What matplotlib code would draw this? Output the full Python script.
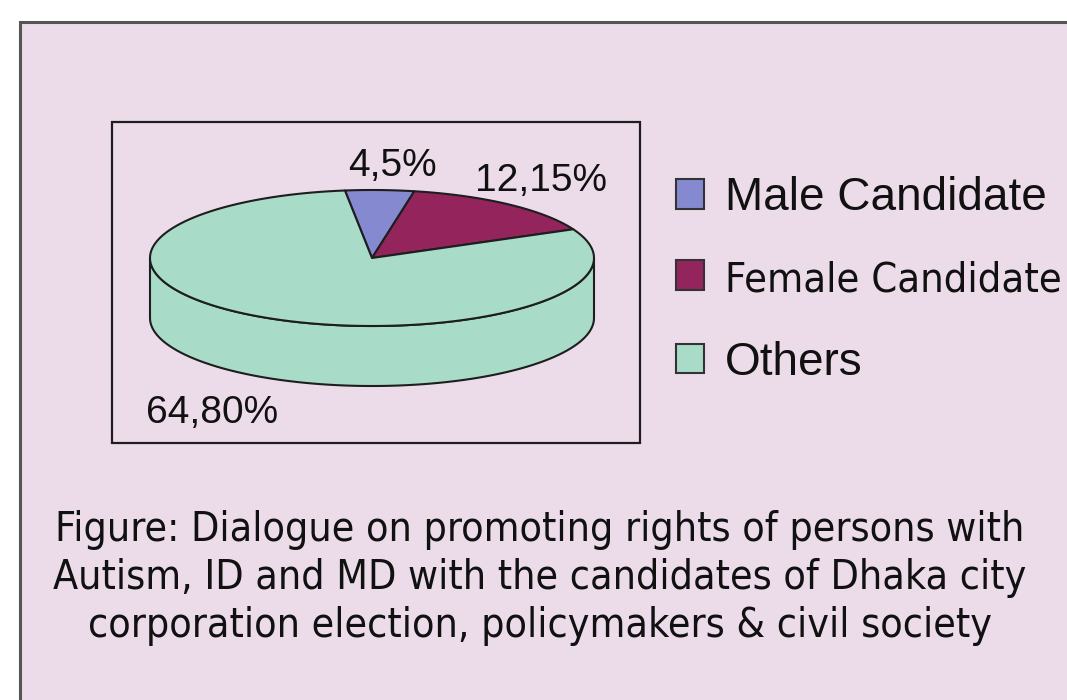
import numpy as np
import matplotlib
matplotlib.use("Agg")
import matplotlib.pyplot as plt
from matplotlib.patches import Polygon, Rectangle, Patch
from matplotlib import font_manager
from matplotlib.font_manager import FontProperties

# data
categories = ["Male Candidate", "Female Candidate", "Others"]
counts = [4, 12, 64]
percents = [5, 15, 80]
colors = ["#8589d0", "#94245c", "#a8dcc8"]
caption_lines = [
    "Figure: Dialogue on promoting rights of persons with",
    "Autism, ID and MD with the candidates of Dhaka city",
    "corporation election, policymakers & civil society",
]

installed = {f.name for f in font_manager.fontManager.ttflist}
regular = "Liberation Sans" if "Liberation Sans" in installed else "DejaVu Sans"

# look for a narrow / condensed face (the original uses a condensed font)
narrow_path = None
for pref in ("Liberation Sans Narrow", "DejaVu Sans Condensed", "Noto Sans Condensed",
             "Roboto Condensed", "Open Sans Condensed"):
    for f in font_manager.fontManager.ttflist:
        base = f.fname.replace(" ", "").lower()
        if (f.name == pref or pref.replace(" ", "").lower() in base) and f.weight in (400, "normal") \
                and f.style == "normal":
            narrow_path = f.fname
            break
    if narrow_path:
        break
if narrow_path is None:
    for f in font_manager.fontManager.ttflist:
        if f.stretch in ("condensed", "semi-condensed") and f.style == "normal" and f.weight in (400, "normal"):
            narrow_path = f.fname
            break


def narrow_prop(size):
    if narrow_path:
        return FontProperties(fname=narrow_path, size=size)
    return FontProperties(family=regular, size=size)


W, H = 1067, 700
fig = plt.figure(figsize=(W / 100, H / 100), dpi=100)
fig.patch.set_facecolor("white")
ax = fig.add_axes([0, 0, 1, 1])
ax.set_xlim(0, W)
ax.set_ylim(H, 0)
ax.axis("off")
renderer = fig.canvas.get_renderer()

bg = "#ecdcea"
edge = "#1e1e1e"

# outer panel and chart box
ax.add_patch(Rectangle((20, 22), 1100, 720, facecolor=bg, edgecolor="#555555", lw=2.2))
ax.add_patch(Rectangle((112, 122), 528, 321, facecolor="none", edgecolor=edge, lw=1.6))

# 3d pie geometry
cx, cy, rx, ry, depth = 372, 258, 222, 68, 60
start = 97.0
fracs = np.array(counts, dtype=float) / sum(counts)
bounds = start - 360 * np.concatenate([[0], np.cumsum(fracs)])


def ell(theta, dy=0):
    t = np.radians(theta)
    return np.column_stack([cx + rx * np.cos(t), cy - ry * np.sin(t) + dy])


# side walls (front half only)
for i in range(len(counts)):
    t0, t1 = bounds[i], bounds[i + 1]
    for k in (-360, 0, 360):
        lo, hi = max(t1, -180 + k), min(t0, k)
        if lo < hi:
            th = np.linspace(lo, hi, 200)
            pts = np.vstack([ell(th), ell(th[::-1], depth)])
            ax.add_patch(Polygon(pts, closed=True, facecolor=colors[i],
                                 edgecolor=edge, lw=1.5, joinstyle="round"))

# top face
for i in range(len(counts)):
    th = np.linspace(bounds[i], bounds[i + 1], 200)
    pts = np.vstack([[cx, cy], ell(th)])
    ax.add_patch(Polygon(pts, closed=True, facecolor=colors[i],
                         edgecolor=edge, lw=1.5, joinstyle="round"))

# value labels
labels = [f"{c},{p}%" for c, p in zip(counts, percents)]
label_pos = [(392, 166), (541, 181), (212, 413)]
for lab, (x, y) in zip(labels, label_pos):
    ax.text(x, y, lab, ha="center", va="center", fontsize=28,
            family=regular, color="#111111")


def fit_size(txt, target_px):
    # shrink/grow a text so it spans target_px pixels wide
    w = txt.get_window_extent(renderer).width
    txt.set_fontsize(txt.get_fontsize() * target_px / w)


# legend
handles = [Patch(facecolor=c, edgecolor="#333333", lw=1.5) for c in colors]
leg = ax.legend(handles, categories, loc="upper left",
                bbox_to_anchor=(676 / W, 1 - 176 / H), frameon=False,
                prop={"family": regular, "size": 33},
                handlelength=0.62, handleheight=0.62, handletextpad=0.45,
                labelspacing=0.88, borderpad=0, borderaxespad=0)
for t in leg.get_texts():
    t.set_color("#111111")
ftxt = leg.get_texts()[1]
ftxt.set_fontproperties(narrow_prop(34))
fit_size(ftxt, 336)

# caption
cap_texts = []
for j, line in enumerate(caption_lines):
    t = ax.text(540, 530 + 48 * j, line, ha="center", va="center",
                fontproperties=narrow_prop(32), color="#111111")
    cap_texts.append(t)
w0 = cap_texts[0].get_window_extent(renderer).width
for t in cap_texts:
    t.set_fontsize(t.get_fontsize() * 970 / w0)

fig.savefig("out.png", dpi=100, facecolor=fig.get_facecolor())
